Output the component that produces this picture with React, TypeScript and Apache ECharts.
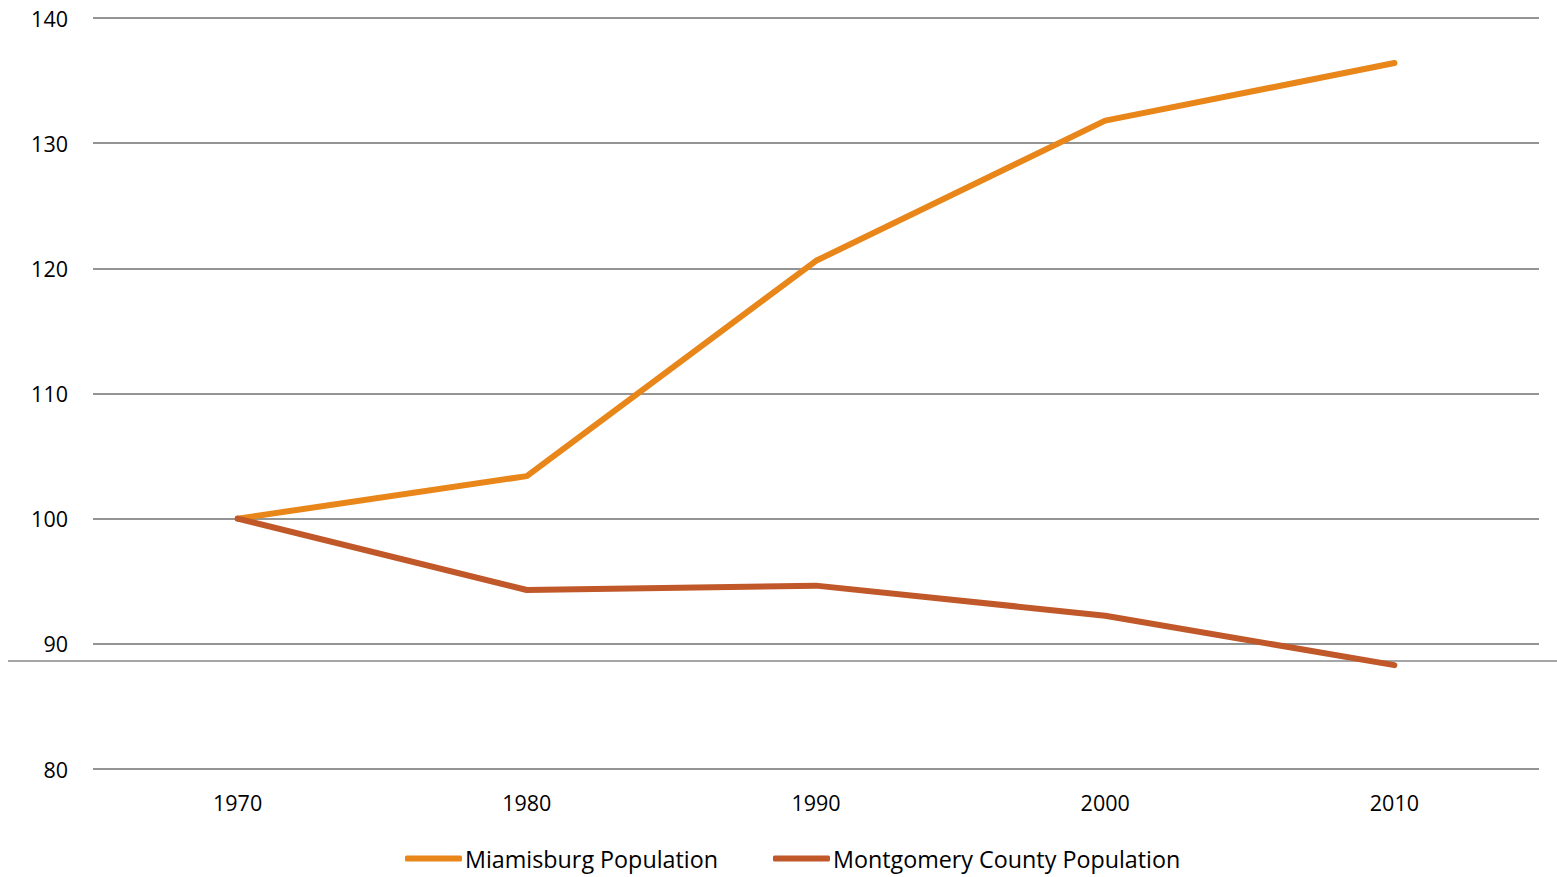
import React, { useEffect, useRef } from "react";
import * as echarts from "echarts";

const years = ["1970", "1980", "1990", "2000", "2010"];
const miamisburg = [100, 103.4, 120.6, 131.8, 136.4];
const montgomery = [100, 94.3, 94.65, 92.25, 88.3];
const seriesNames = ["Miamisburg Population", "Montgomery County Population"];

export default function App() {
  const ref = useRef<HTMLDivElement>(null);
  useEffect(() => {
    if (!ref.current) return;
    const chart = echarts.init(ref.current, undefined, { renderer: "svg" });
    const font = "'Open Sans', 'Noto Sans', sans-serif";
    chart.setOption({
      animation: false,
      backgroundColor: "#ffffff",
      grid: { left: 93, right: 18, top: 18, bottom: 108, containLabel: false },
      xAxis: {
        type: "category",
        data: years,
        boundaryGap: true,
        axisLine: { show: false },
        axisTick: { show: false },
        axisLabel: { color: "#000", fontSize: 21.5, fontFamily: font, margin: 22 },
      },
      yAxis: {
        type: "value",
        min: 80,
        max: 140,
        interval: 10,
        axisLine: { show: false },
        axisTick: { show: false },
        axisLabel: { color: "#000", fontSize: 21.5, fontFamily: font, margin: 25 },
        splitLine: { lineStyle: { color: "#949494", width: 2 } },
      },
      legend: {
        bottom: 7,
        left: 405,
        padding: 0,
        itemWidth: 57,
        itemHeight: 6,
        itemGap: 55,
        icon: "roundRect",
        textStyle: { color: "#000", fontSize: 23.3, fontFamily: font, padding: [0, 0, 0, -2] },
        data: seriesNames,
      },
      graphic: [
        {
          type: "line",
          shape: { x1: 8, y1: 661, x2: 1557, y2: 661 },
          style: { stroke: "#a6a6a6", lineWidth: 2 },
          z: 0,
          zlevel: 0,
        },
      ],
      series: [
        {
          name: seriesNames[0],
          type: "line",
          data: miamisburg,
          showSymbol: false,
          symbol: "none",
          itemStyle: { color: "#E8861A" },
          lineStyle: { color: "#E8861A", width: 6, cap: "round", join: "round" },
          z: 5,
        },
        {
          name: seriesNames[1],
          type: "line",
          data: montgomery,
          showSymbol: false,
          symbol: "none",
          itemStyle: { color: "#C0582A" },
          lineStyle: { color: "#C0582A", width: 6, cap: "round", join: "round" },
          z: 5,
        },
      ],
    });
    return () => chart.dispose();
  }, []);
  return (
    <div
      ref={ref}
      style={{ position: "fixed", left: 0, top: 0, width: 1557, height: 877 }}
    />
  );
}
